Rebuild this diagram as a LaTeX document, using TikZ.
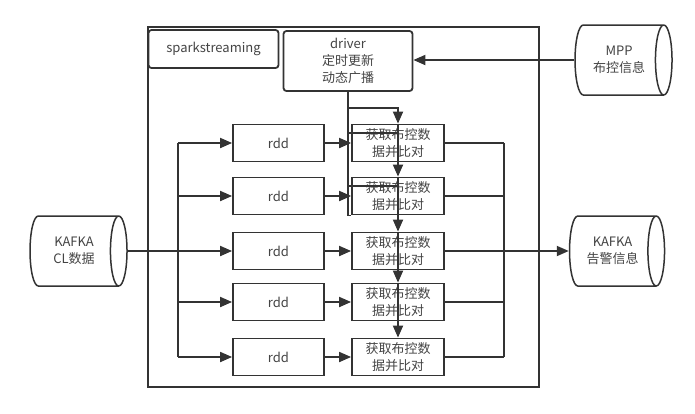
\documentclass[tikz,border=0pt]{standalone}
\usepackage{fontspec}
\setmainfont{Noto Sans CJK SC}
\usetikzlibrary{arrows.meta,shapes.geometric}
\definecolor{linegray}{RGB}{51,51,51}
\definecolor{textgray}{RGB}{68,68,68}

\begin{document}
\begin{tikzpicture}[x=1pt,y=-1pt,
  every node/.style={font=\fontsize{13}{17}\selectfont,text=textgray,align=center},
  box/.style={draw=linegray,line width=1.8pt,minimum width=91pt,minimum height=37pt,inner sep=0pt},
  rbox/.style={box,rounded corners=3pt},
  store/.style={draw=linegray,line width=1.5pt,cylinder,shape aspect=0.6,minimum width=70pt,minimum height=97pt,inner sep=0pt},
  link/.style={draw=linegray,line width=1.8pt},
  arr/.style={link,-{Triangle[length=12pt,width=10pt]}}]
\useasboundingbox (0,0) rectangle (695,413);
\fill[white] (0,0) rectangle (695,413);
% frame and header boxes
\node[draw=linegray,line width=1.8pt,minimum width=391pt,minimum height=360pt] (spark) at (343.5,207) {};
\node[rbox,minimum width=130pt,minimum height=38pt] (title) at (213.5,49) {sparkstreaming};
\node[rbox,minimum width=129pt,minimum height=60pt] (driver) at (348,61) {driver\\定时更新\\动态广播};
% stores
\node[store] (mpp) at (619,60) {MPP\\布控信息};
\node[store] (kcl) at (74,251) {KAFKA\\CL数据};
\node[store,minimum height=95pt] (kalert) at (612.5,251) {KAFKA\\告警信息};
% rows
\foreach \i/\y in {1/143,2/196,3/251,4/302,5/357} {
  \node[box] (rdd\i) at (278.5,\y) {rdd};
  \node[box,minimum width=92pt] (cmp\i) at (398,\y) {获取布控数\\据并比对};
  \draw[arr] (rdd\i) -- (cmp\i);
}
\coordinate (fanL) at (178,0);
\coordinate (fanR) at (504,0);
\coordinate (tap) at (348,108);
% input fan
\draw[arr] (kcl.east) -- (rdd3.west);
\draw[link] (fanL |- rdd1) -- (fanL |- rdd5);
\foreach \i in {1,2,4,5} \draw[arr] (fanL |- rdd\i) -- (rdd\i.west);
% output fan
\draw[link] (fanR |- cmp1) -- (fanR |- cmp5);
\foreach \i in {1,...,5} \draw[link] (cmp\i.east) -- (fanR |- cmp\i);
\draw[arr] (fanR |- cmp3) -- (kalert.west);
% driver broadcast
\draw[arr] (mpp.west) -- (mpp.west -| driver.east);
\draw[link] (driver.south) |- (cmp2.south west);
\draw[arr] (tap) -| (cmp1.north);
\path ([yshift=-9pt]cmp1.north) coordinate (h1) ([yshift=-9pt]cmp2.north) coordinate (h2);
\draw[link] (h1 -| driver.south) -- (h1);
\draw[link] (h2 -| driver.south) -- (h2);
\foreach \i/\j in {1/2,2/3,3/4,4/5} \draw[arr] (cmp\i.north) -- (cmp\j.north);
\end{tikzpicture}
\end{document}
